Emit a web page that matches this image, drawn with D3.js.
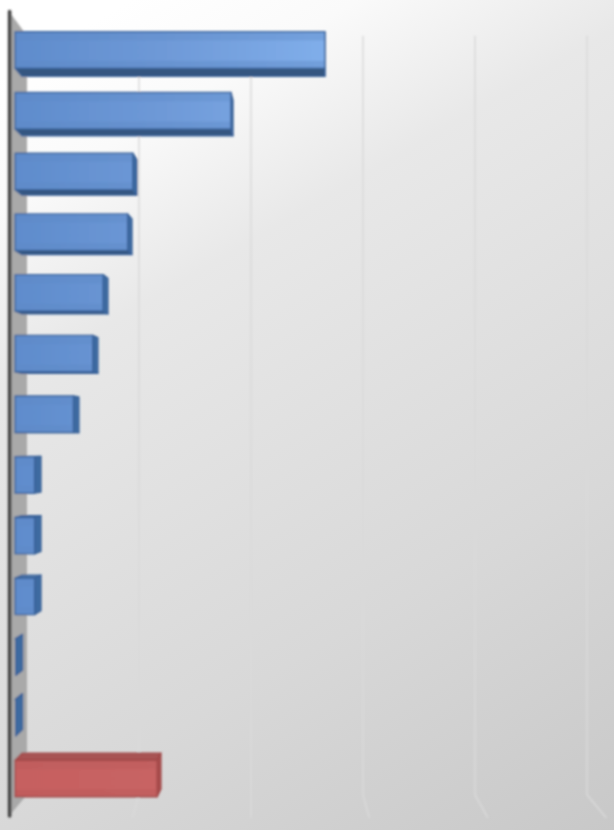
<!DOCTYPE html>
<html><head><meta charset="utf-8">
<script src="https://cdn.jsdelivr.net/npm/d3@7"></script>
<style>html,body{margin:0;padding:0;background:#ddd}svg{display:block}</style></head>
<body><svg id="c" width="614" height="830"></svg>
<script>
const rows = ["1","2","3","4","5","6","7","8","9","10","11","12","13"];
const values = [2.66,1.853,1.01,0.966,0.755,0.667,0.5,0.167,0.167,0.167,0.005,0.005,1.22];
const highlighted = ["13"];
const xTicks = [1,2,3,4,5];

const W=614,H=830;
const x=d3.scaleLinear().domain([0,5]).range([27,587]);
const y=d3.scaleBand().domain(rows).range([35.8,794.7]).paddingInner(0.4).paddingOuter(0.2);
const vx=325, vy=440, kFront=.04, kBack=.017, kWall=.06;
const floorVx=251, floorKx=.057, floorKy=.065;
const P=(X,Y,k)=>[X+(X-vx)*k, Y+(Y-vy)*k];
const floorP=(X,Y)=>[X+(X-floorVx)*floorKx, Y+(Y-vy)*floorKy];
const poly=pts=>pts.map(p=>p.join(",")).join(" ");

const svg=d3.select("#c");
const defs=svg.append("defs");
function grad(id,attrs,stops){
  const g=defs.append("linearGradient").attr("id",id);
  Object.entries(attrs).forEach(([k,v])=>g.attr(k,v));
  stops.forEach(([o,c])=>g.append("stop").attr("offset",o).attr("stop-color",c));
}
grad("bg",{gradientUnits:"userSpaceOnUse",x1:130,y1:0,x2:614,y2:830},[[0,"#ffffff"],[.12,"#fafafa"],[.28,"#e8e8e8"],[.68,"#d8d8d8"],[1,"#c8c8c8"]]);
grad("blue",{gradientUnits:"userSpaceOnUse",x1:15,y1:0,x2:325,y2:0},[[0,"#5f8ccc"],[.5,"#6f9ad8"],[1,"#80aeea"]]);
grad("red",{},[[0,"#c66060"],[1,"#c86464"]]);
defs.append("filter").attr("id","soft").append("feGaussianBlur").attr("stdDeviation",.8);

svg.append("rect").attr("width",W).attr("height",H).attr("fill","url(#bg)");
const g=svg.append("g").attr("filter","url(#soft)");

// gridlines on the back wall and floor
const [wallTop,wallBot]=y.range();
g.selectAll(".gl").data(xTicks).join("polyline").attr("class","gl")
  .attr("fill","none").attr("stroke","#dadada").attr("stroke-width",1.5)
  .attr("points",d=>poly([[x(d),wallTop],[x(d),wallBot],floorP(x(d),wallBot)]));

// side wall
const x0=x(0);
g.append("polygon").attr("fill","#a9a9a9")
  .attr("points",poly([[x0,wallTop],[x0,wallBot],P(x0,wallBot,kWall),P(x0,wallTop,kWall)]));
g.append("line").attr("stroke","#444").attr("stroke-width",3.6).attr("stroke-linecap","round")
  .attr("x1",P(x0,wallTop,kWall)[0]+.5).attr("y1",P(x0,wallTop,kWall)[1])
  .attr("x2",P(x0,wallBot,kWall)[0]+.5).attr("y2",P(x0,wallBot,kWall)[1]);

// bars
const blue={front:"url(#blue)",strip:"#5f8ac6",top:"#4a74aa",bottom:"#355680",side:"#3c6aa1",edge:"#3a6299"};
const red={front:"url(#red)",strip:"#b85858",top:"#a85252",bottom:"#8f4040",side:"#a94e4e",edge:"#a04848"};
rows.forEach((r,i)=>{
  const c=highlighted.includes(r)?red:blue;
  const X0=x(0),X1=x(values[i]),Yt=y(r),Yb=Yt+y.bandwidth();
  const b=g.append("g");
  const face=(pts,fill)=>b.append("polygon").attr("points",poly(pts)).attr("fill",fill)
    .attr("stroke",c.edge).attr("stroke-width",1.4).attr("stroke-linejoin","round");
  if(Yt>vy) face([P(X0,Yt,kFront),P(X1,Yt,kFront),P(X1,Yt,kBack),P(X0,Yt,kBack)],c.top);
  if(Yb<vy) face([P(X0,Yb,kFront),P(X1,Yb,kFront),P(X1,Yb,kBack),P(X0,Yb,kBack)],c.bottom);
  face([P(X1,Yt,kFront),P(X1,Yb,kFront),P(X1,Yb,kBack),P(X1,Yt,kBack)],c.side);
  const tl=P(X0,Yt,kFront),br=P(X1,Yb,kFront);
  const w=br[0]-tl[0],h=br[1]-tl[1];
  if(w>3){
    face([tl,[br[0],tl[1]],br,[tl[0],br[1]]],c.front);
    b.append("rect").attr("x",tl[0]+.7).attr("y",tl[1]+.7).attr("width",w-1.4).attr("height",Math.min(9,h*.22))
      .attr("fill",c.strip).attr("opacity",.35);
    b.append("rect").attr("x",tl[0]+.7).attr("y",br[1]-Math.min(8,h*.2)).attr("width",w-1.4).attr("height",Math.min(8,h*.2)-.7)
      .attr("fill",c.strip).attr("opacity",.4);
  }
});
</script></body></html>
